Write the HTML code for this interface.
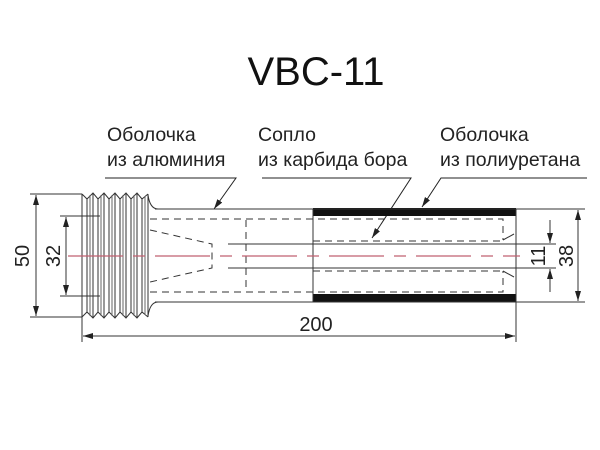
<!DOCTYPE html>
<html><head><meta charset="utf-8"><style>
html,body{margin:0;padding:0;background:#fff;}
svg{display:block;font-family:"Liberation Sans",sans-serif;}
</style></head><body>
<svg width="600" height="450" viewBox="0 0 600 450" xmlns="http://www.w3.org/2000/svg">
<defs>
<marker id="a" markerWidth="10" markerHeight="6" refX="10" refY="3" orient="auto-start-reverse" markerUnits="userSpaceOnUse"><path d="M0,0 L10,3 L0,6 z" fill="#222"/></marker>
</defs>
<text x="316" y="85" font-size="40" text-anchor="middle" fill="#111">VBC-11</text>
<g font-size="19.5" fill="#222">
<text x="107" y="141">Оболочка</text><text x="107" y="166">из алюминия</text>
<text x="258" y="141">Сопло</text><text x="258" y="166">из карбида бора</text>
<text x="440" y="141">Оболочка</text><text x="440" y="166">из полиуретана</text>
</g>
<g stroke="#222" stroke-width="1" fill="none">
<polyline points="105,178 236,178 214,209" marker-end="url(#a)"/>
<polyline points="262,178 411,178 372,238" marker-end="url(#a)"/>
<polyline points="587,178 441,178 422,207" marker-end="url(#a)"/>
</g>
<rect x="313" y="208" width="203" height="8" fill="#111"/>
<rect x="313" y="294" width="203" height="8" fill="#111"/>
<g stroke="#333" stroke-width="1" fill="none">
<path d="M155,209 L516,209 M155,302 L516,302"/>
<path d="M148,195 Q150,209 158,209 M148,316 Q150,302 158,302"/>
<path d="M313,209 L313,302 M516,209 L516,302"/>
<path d="M228,244 L516,244 M228,268 L516,268"/>
<path d="M82,194 L87,199 L93,193 L98,199 L104,193 L109,199 L115,193 L120,199 L126,193 L131,199 L137,193 L142,199 L148,194"/>
<path d="M82,317 L87,312 L93,318 L98,312 L104,318 L109,312 L115,318 L120,312 L126,318 L131,312 L137,318 L142,312 L148,317"/>
<path d="M82,194 L82,317 M87,199 L87,312 M93,193 L93,318 M98,199 L98,312 M104,193 L104,318 M109,199 L109,312 M115,193 L115,318 M120,199 L120,312 M126,193 L126,318 M131,199 L131,312 M137,193 L137,318 M142,199 L142,312 M148,194 L148,317"/>
<path d="M90,195 L90,316 M101,195 L101,316 M112,195 L112,316 M123,195 L123,316 M134,195 L134,316 M145,196 L145,315" stroke="#666"/>
</g>
<g stroke="#333" stroke-width="1" fill="none" stroke-dasharray="7,5">
<path d="M150,219 L503,219 L503,240 M150,292 L503,292 L503,271"/>
<path d="M150,230 L212,244 L212,268 L150,282"/>
<path d="M246,220 L246,292"/>
<path d="M313,241 L503,241 M313,271 L503,271"/>
</g>
<path d="M503,240 L514,234 M503,271 L514,277" stroke="#333" fill="none"/>
<path d="M68,256 L520,256" stroke="#c06070" stroke-width="1.3" stroke-dasharray="55,10,12,10" fill="none"/>
<g stroke="#333" stroke-width="1" fill="none">
<path d="M30,194 L82,194 M30,317 L82,317"/>
<line x1="36" y1="195" x2="36" y2="316" marker-start="url(#a)" marker-end="url(#a)"/>
<path d="M60,216 L100,216 M60,296 L100,296"/>
<line x1="66" y1="217" x2="66" y2="295" marker-start="url(#a)" marker-end="url(#a)"/>
<path d="M82,317 L82,342 M516,302 L516,342"/>
<line x1="83" y1="336" x2="515" y2="336" marker-start="url(#a)" marker-end="url(#a)"/>
<path d="M516,209 L585,209 M516,302 L585,302"/>
<line x1="578" y1="210" x2="578" y2="301" marker-start="url(#a)" marker-end="url(#a)"/>
<path d="M516,244 L556,244 M516,268 L556,268"/>
<line x1="550" y1="220" x2="550" y2="243" marker-end="url(#a)"/>
<line x1="550" y1="292" x2="550" y2="269" marker-end="url(#a)"/>
</g>
<g font-size="20" fill="#222" text-anchor="middle">
<text x="316" y="331">200</text>
<text transform="translate(29,256) rotate(-90)">50</text>
<text transform="translate(60,256) rotate(-90)">32</text>
<text transform="translate(545,256) rotate(-90)">11</text>
<text transform="translate(573,256) rotate(-90)">38</text>
</g>
</svg>
</body></html>
